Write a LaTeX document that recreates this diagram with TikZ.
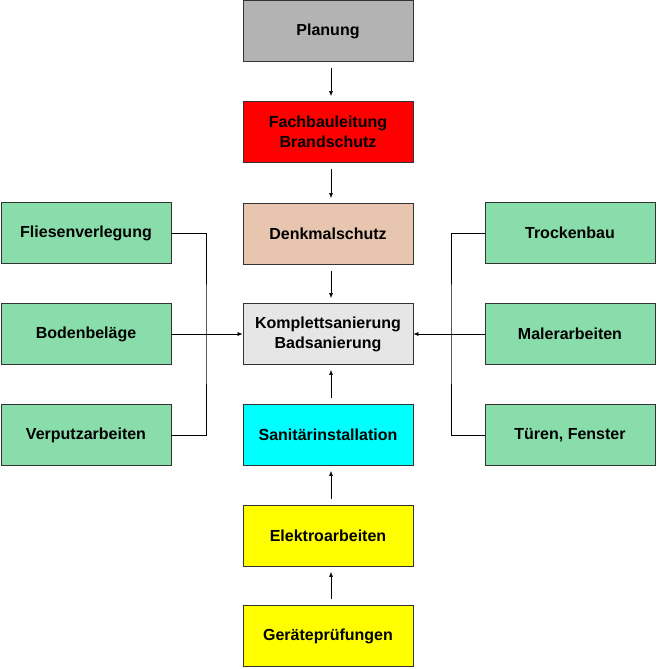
\documentclass[tikz,border=0pt]{standalone}
\usepackage{fontspec}
\setmainfont{Liberation Sans}
\usetikzlibrary{arrows.meta}
\definecolor{gr}{HTML}{B3B3B3}
\definecolor{dk}{HTML}{E8C5AE}
\definecolor{kp}{HTML}{E6E6E6}
\definecolor{gn}{HTML}{88DDAA}
\definecolor{cy}{HTML}{00FFFF}
\definecolor{rd}{HTML}{FF0000}
\definecolor{ye}{HTML}{FFFF00}
\begin{document}
\begin{tikzpicture}[x=1pt,y=-1pt,
 box/.style={draw=black!80,line width=0.8pt,minimum width=170pt,minimum height=61pt,align=center,font=\bfseries\fontsize{16}{20}\selectfont,inner sep=0pt},
 arr/.style={-{Latex[length=5pt,width=4pt]},line width=0.6pt,shorten >=5pt,shorten <=6pt},
 ln/.style={line width=0.6pt}]
\useasboundingbox (0,0) rectangle (656,669);
\node[box,fill=gr] (p) at (328,31) {Planung};
\node[box,fill=rd] (f) at (328,132) {Fachbauleitung\\Brandschutz};
\node[box,fill=dk] (d) at (328,234) {Denkmalschutz};
\node[box,fill=kp] (k) at (328,334) {Komplettsanierung\\Badsanierung};
\node[box,fill=cy] (s) at (328,435) {Sanitärinstallation};
\node[box,fill=ye] (e) at (328,536) {Elektroarbeiten};
\node[box,fill=ye] (g) at (328,636) {Geräteprüfungen};
\node[box,fill=gn] (l1) at (86,233) {Fliesenverlegung};
\node[box,fill=gn] (l2) at (86,334) {Bodenbeläge};
\node[box,fill=gn] (l3) at (86,435) {Verputzarbeiten};
\node[box,fill=gn] (r1) at (570,233) {Trockenbau};
\node[box,fill=gn] (r2) at (570,334) {Malerarbeiten};
\node[box,fill=gn] (r3) at (570,435) {Türen, Fenster};
\draw[arr] ([xshift=3pt]p.south) -- ([xshift=3pt]f.north);
\draw[arr] ([xshift=3pt]f.south) -- ([xshift=3pt]d.north);
\draw[arr] ([xshift=3pt]d.south) -- ([xshift=3pt]k.north);
\draw[arr] ([xshift=3pt]s.north) -- ([xshift=3pt]k.south);
\draw[arr] ([xshift=3pt]e.north) -- ([xshift=3pt]s.south);
\draw[arr] ([xshift=3pt]g.north) -- ([xshift=3pt]e.south);
\coordinate (lj) at (206,334);
\coordinate (rj) at (451,334);
\draw[ln] (l1.east) -| (lj) |- (l3.east);
\draw[ln] (r1.west) -| (rj) |- (r3.west);
\draw[arr,shorten <=0pt,shorten >=0pt] (l2.east) -- (k.west);
\draw[arr,shorten <=0pt,shorten >=0pt] (r2.west) -- (k.east);
\end{tikzpicture}
\end{document}
